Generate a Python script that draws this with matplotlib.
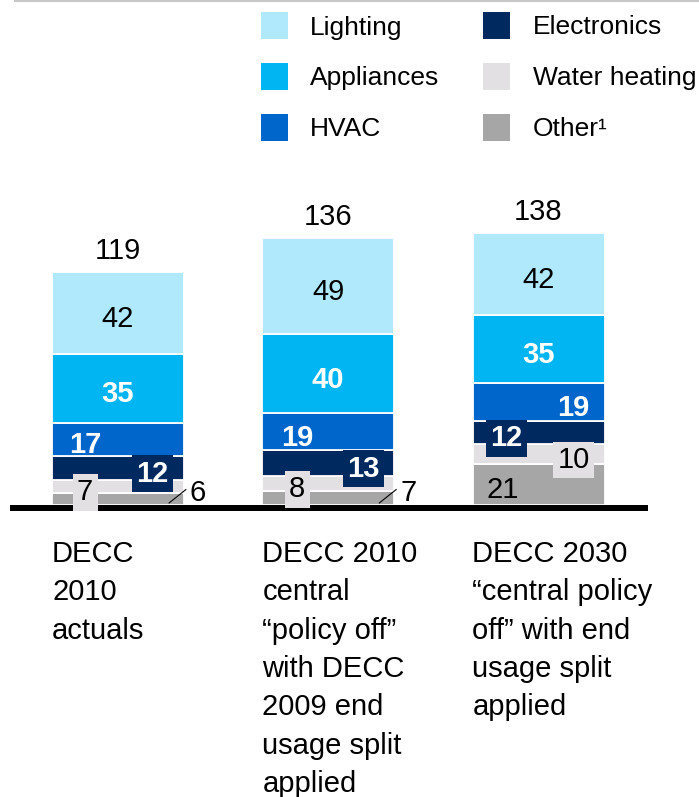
import matplotlib.pyplot as plt
from matplotlib.patches import Rectangle
from matplotlib.lines import Line2D

plt.rcParams['font.family'] = ['Liberation Sans', 'DejaVu Sans']

# Donnees
categories = ["DECC\n2010\nactuals",
              "DECC 2010\ncentral\n\u201cpolicy off\u201d\nwith DECC\n2009 end\nusage split\napplied",
              "DECC 2030\n\u201ccentral policy\noff\u201d with end\nusage split\napplied"]
series = ["Other\u00b9", "Water heating", "Electronics", "HVAC", "Appliances", "Lighting"]
other = [6, 7, 21]
water_heating = [7, 8, 10]
electronics = [12, 13, 12]
hvac = [17, 19, 19]
appliances = [35, 40, 35]
lighting = [42, 49, 42]
totals = [119, 136, 138]

values = [other, water_heating, electronics, hvac, appliances, lighting]
colors = ['#A6A6A6', '#E2E0E2', '#002960', '#0066CC', '#00B5F1', '#B0E9FC']

# style des etiquettes : (couleur, gras, boite, decalage x en px par barre)
label_style = {
    "Other\u00b9": ('black', False, False, [None, None, -36]),
    "Water heating": ('black', False, True, [-33, -31, 35]),
    "Electronics": ('white', True, True, [34, 35, -32]),
    "HVAC": ('white', True, False, [-33, -31, 35]),
    "Appliances": ('white', True, False, [0, 0, 0]),
    "Lighting": ('black', False, False, [0, 0, 0]),
}

W, H = 699, 797
PX_X = 210.25    # px par categorie
PX_Y = 1.96      # px par unite
X0, Y0 = 118, 505  # centre de la 1ere barre / ligne de base (px)
PT = 0.72        # px -> points a 100 dpi
FS = 21

fig = plt.figure(figsize=(W / 100, H / 100), dpi=100)
ax = fig.add_axes([0, 0, 1, 1])
ax.set_xlim(-X0 / PX_X, (W - X0) / PX_X)
ax.set_ylim(-(H - Y0) / PX_Y, Y0 / PX_Y)
ax.axis('off')

x = list(range(len(categories)))
width = 132 / PX_X

bottom = [0] * len(x)
for name, vals, col in zip(series, values, colors):
    ax.bar(x, vals, width, bottom=bottom, color=col, edgecolor='white',
           linewidth=1.3, zorder=2)
    tcol, bold, box, dxs = label_style[name]
    for i in x:
        mid = bottom[i] + vals[i] / 2
        if dxs[i] is None:
            # petite valeur : etiquette a l'exterieur avec un trait
            ax.annotate(str(vals[i]), xy=(i + 51 / PX_X, 1.0),
                        xytext=(29 * PT, 13.5 * PT), textcoords='offset points',
                        ha='center', va='center_baseline', fontsize=FS,
                        color=tcol, zorder=5,
                        arrowprops=dict(arrowstyle='-', color='black', lw=0.8,
                                        shrinkA=1, shrinkB=0, relpos=(0, 0.72)))
            continue
        bbox = None
        if box:
            bbox = dict(boxstyle='square,pad=0.15', fc=col, ec='none')
        ax.annotate(str(vals[i]), xy=(i, mid),
                    xytext=(dxs[i] * PT, -3 * PT), textcoords='offset points',
                    ha='center', va='center_baseline', fontsize=FS,
                    color=tcol, fontweight='bold' if bold else 'normal',
                    bbox=bbox, zorder=5)
    bottom = [b + v for b, v in zip(bottom, vals)]

# totaux au-dessus des barres
for i in x:
    ax.annotate(str(totals[i]), xy=(i, bottom[i]), xytext=(0, 24 * PT),
                textcoords='offset points', ha='center', va='center_baseline',
                fontsize=FS, color='black')

# ligne de base
ax.axhline(-3 / PX_Y, xmin=10 / W, xmax=648 / W, color='black',
           linewidth=6 * PT, zorder=3, solid_capstyle='butt')

# libelles des categories
for i, cat in enumerate(categories):
    ax.annotate(cat, xy=(i - width / 2, 0), xytext=(0, -35 * PT),
                textcoords='offset points', ha='left', va='top',
                fontsize=FS, linespacing=1.47)

# legende
leg_names = series[::-1]
leg_colors = colors[::-1]
for k, (name, col) in enumerate(zip(leg_names, leg_colors)):
    c, r = k // 3, k % 3
    sx = [261, 483][c]
    tx = [310, 533][c]
    cy = 25 + 51 * r
    fig.add_artist(Rectangle((sx / W, 1 - (cy + 13.5) / H), 27 / W, 27 / H,
                             transform=fig.transFigure, fc=col, ec='none'))
    fig.text(tx / W, 1 - cy / H, name, ha='left', va='center_baseline',
             fontsize=19)

# filet gris en haut
fig.add_artist(Line2D([15 / W, 1], [1 - 1 / H, 1 - 1 / H],
                      transform=fig.transFigure, color='#C8C8C8', lw=1.5))

fig.savefig('out.png', dpi=100)
